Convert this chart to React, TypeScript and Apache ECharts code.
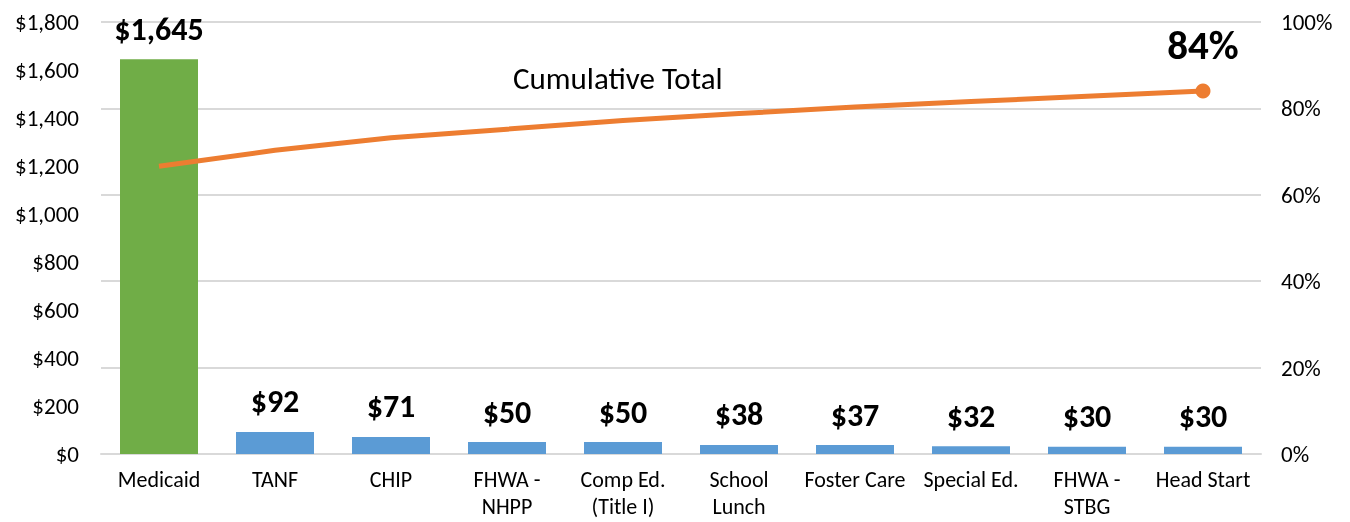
import React, { useEffect, useRef } from "react";
import * as echarts from "echarts";

const categories = [
  "Medicaid",
  "TANF",
  "CHIP",
  "FHWA -\nNHPP",
  "Comp Ed.\n(Title I)",
  "School\nLunch",
  "Foster Care",
  "Special Ed.",
  "FHWA -\nSTBG",
  "Head Start",
];
const spending = [1645, 92, 71, 50, 50, 38, 37, 32, 30, 30];
const cumulativePct = [66.6, 70.3, 73.2, 75.2, 77.2, 78.8, 80.3, 81.6, 82.8, 84.0];
const leftTicks = { min: 0, max: 1800, interval: 200 };
const rightTicks = { min: 0, max: 100, interval: 20 };

const FONT = "Carlito, Lato, 'Open Sans', sans-serif";

export default function App() {
  const ref = useRef<HTMLDivElement>(null);
  useEffect(() => {
    if (!ref.current) return;
    const chart = echarts.init(ref.current, undefined, { renderer: "svg" });
    const last = cumulativePct.length - 1;
    chart.setOption({
      animation: false,
      textStyle: { fontFamily: FONT },
      grid: {
        left: 101,
        right: 89,
        top: 22,
        bottom: 68,
        containLabel: false,
        outerBoundsMode: "none",
      },
      graphic: [
        {
          type: "text",
          left: 513,
          top: 62,
          style: { text: "Cumulative Total", fontSize: 31, fontFamily: FONT, fill: "#000" },
        },
      ],
      xAxis: {
        type: "category",
        data: categories,
        axisTick: { show: false },
        axisLine: { lineStyle: { color: "#d9d9d9", width: 2 } },
        axisLabel: {
          color: "#000",
          fontSize: 22,
          fontFamily: FONT,
          margin: 12,
          lineHeight: 27,
          interval: 0,
        },
      },
      yAxis: [
        {
          type: "value",
          min: leftTicks.min,
          max: leftTicks.max,
          interval: leftTicks.interval,
          splitLine: { show: false },
          axisLine: { show: false },
          axisTick: { show: false },
          axisLabel: {
            color: "#000",
            fontSize: 23,
            fontFamily: FONT,
            margin: 22,
            formatter: (v: number) => "$" + v.toLocaleString("en-US"),
          },
        },
        {
          type: "value",
          min: rightTicks.min,
          max: rightTicks.max,
          interval: rightTicks.interval,
          splitLine: { show: true, lineStyle: { color: "#d9d9d9", width: 2 } },
          axisLine: { show: false },
          axisTick: { show: false },
          axisLabel: {
            color: "#000",
            fontSize: 23,
            fontFamily: FONT,
            margin: 20,
            formatter: "{value}%",
          },
        },
      ],
      series: [
        {
          type: "bar",
          yAxisIndex: 0,
          barWidth: 78,
          data: spending.map((v, i) => ({
            value: v,
            itemStyle: { color: i === 0 ? "#70AD47" : "#5B9BD5" },
          })),
          label: {
            show: true,
            position: "top",
            distance: 14,
            color: "#000",
            fontWeight: "bold",
            fontSize: 32,
            fontFamily: FONT,
            formatter: (p: any) => "$" + Number(p.value).toLocaleString("en-US"),
          },
        },
        {
          type: "line",
          yAxisIndex: 1,
          data: cumulativePct.map((v, i) => ({
            value: v,
            symbol: i === last ? "circle" : "none",
            symbolSize: i === last ? 15 : 0,
            label:
              i === last
                ? {
                    show: true,
                    position: "top",
                    distance: 18,
                    formatter: Math.round(v) + "%",
                    fontSize: 41,
                    fontWeight: "bold",
                    color: "#000",
                    fontFamily: FONT,
                  }
                : { show: false },
          })),
          showSymbol: true,
          lineStyle: { color: "#ED7D31", width: 5 },
          itemStyle: { color: "#ED7D31" },
          z: 5,
        },
      ],
    });
    return () => chart.dispose();
  }, []);
  return (
    <div
      ref={ref}
      style={{ position: "fixed", left: 0, top: 0, width: 1350, height: 522 }}
    />
  );
}
